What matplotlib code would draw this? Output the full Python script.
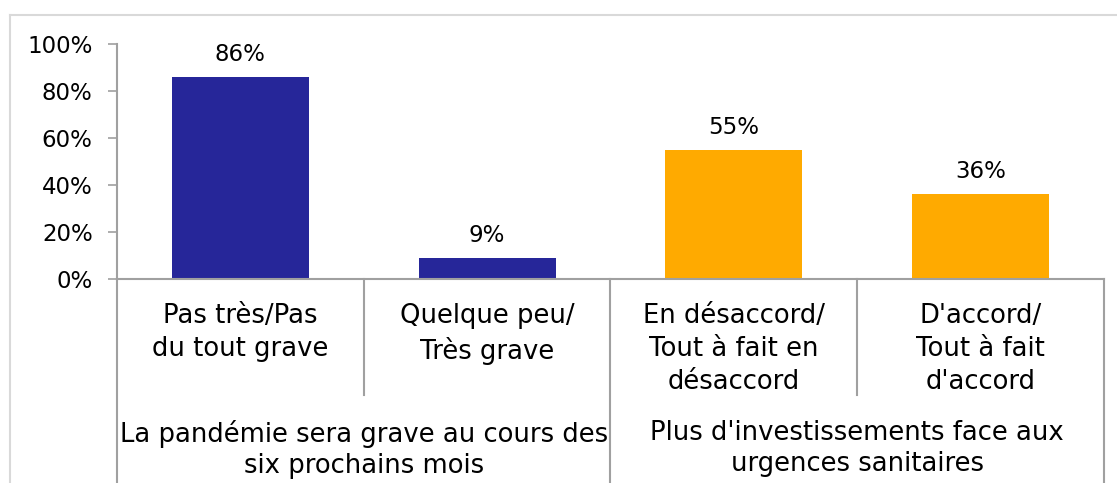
import matplotlib.pyplot as plt
import matplotlib.transforms as mtransforms
from matplotlib.ticker import PercentFormatter

# data
categories = ["Pas très/Pas\ndu tout grave", "Quelque peu/\nTrès grave",
              "En désaccord/\nTout à fait en\ndésaccord", "D'accord/\nTout à fait\nd'accord"]
values = [86, 9, 55, 36]
groups = ["La pandémie sera grave au cours des\nsix prochains mois",
          "Plus d'investissements face aux\nurgences sanitaires"]
group_spans = [(0, 1), (2, 3)]
bar_colors = ["#262699", "#262699", "#FFAA00", "#FFAA00"]

plt.rcParams['font.family'] = ['DejaVu Sans']
axis_gray = "#A0A0A0"
fs_num = 16.5   # numbers (ticks + bar labels)
fs_cat = 18.6   # category text

fig = plt.figure(figsize=(11.17, 4.83), dpi=100)
ax = fig.add_axes([0.1047, 0.4224, 0.8837, 0.4865])

x = list(range(len(values)))
bars = ax.bar(x, values, width=0.555, color=bar_colors)

# value labels on top of bars
for b, v in zip(bars, values):
    ax.annotate(f"{v}%", (b.get_x() + b.get_width() / 2, v), xytext=(0, 8),
                textcoords="offset points", ha="center", va="bottom", fontsize=fs_num)

ax.set_xlim(-0.5, 3.5)
ax.set_ylim(0, 100)
ax.set_yticks(range(0, 101, 20))
ax.yaxis.set_major_formatter(PercentFormatter(decimals=0))
ax.tick_params(axis="y", labelsize=fs_num, length=6.5, color=axis_gray, width=1.2, pad=11)
ax.set_xticks([])

for s in ["top", "right"]:
    ax.spines[s].set_visible(False)
for s in ["left", "bottom"]:
    ax.spines[s].set_color(axis_gray)
    ax.spines[s].set_linewidth(1.5)

# two level category axis
trans = mtransforms.blended_transform_factory(ax.transData, ax.transAxes)
for i, lab in enumerate(categories):
    ax.text(i, -0.102, lab, transform=trans, ha="center", va="top",
            fontsize=fs_cat, linespacing=1.35)

for i in [0.5, 2.5]:
    ax.plot([i, i], [0, -0.494], transform=trans, color=axis_gray, lw=1.5, clip_on=False)
for i in [-0.5, 1.5, 3.5]:
    ax.plot([i, i], [0, -0.9], transform=trans, color=axis_gray, lw=1.5, clip_on=False)

for g, (a, b) in zip(groups, group_spans):
    ax.text((a + b) / 2, -0.60, g, transform=trans, ha="center", va="top",
            fontsize=fs_cat, linespacing=1.27)

# light frame around the chart area
fig.add_artist(plt.Line2D([10 / 1117, 1.0], [1 - 15 / 483] * 2, color="#D9D9D9", lw=1.5))
fig.add_artist(plt.Line2D([10 / 1117] * 2, [0.0, 1 - 15 / 483], color="#D9D9D9", lw=1.5))

fig.savefig("out.png", dpi=100)
